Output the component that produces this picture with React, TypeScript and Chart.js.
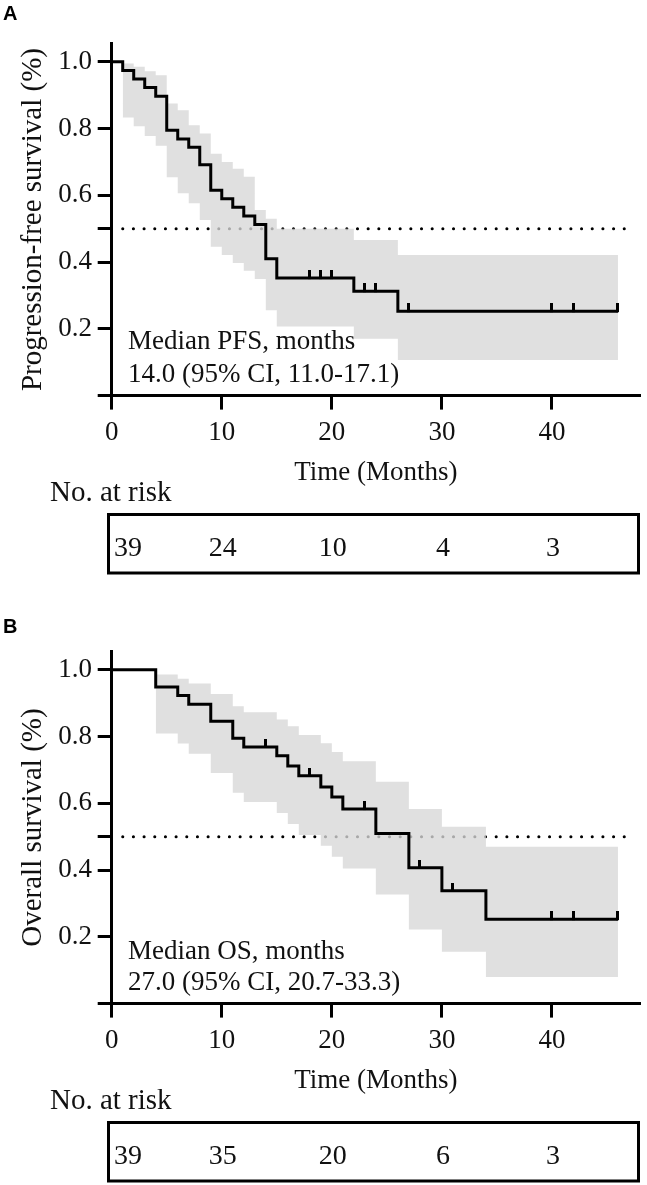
import React, { useEffect, useRef } from 'react';
import { Chart, registerables } from 'chart.js';

Chart.register(...registerables);

// ---------- data ----------
const xTicks = [0, 10, 20, 30, 40];
const yTicks = [0, 0.2, 0.4, 0.5, 0.6, 0.8, 1.0];
const riskTimes = [0, 10, 20, 30, 40];

// Panel A: progression-free survival
const pfsTimes = [0, 1, 2, 3, 4, 5, 6, 7, 8, 9, 10, 11, 12, 13, 14, 15, 22, 26, 46];
const pfsSurv = [1, 0.974, 0.949, 0.923, 0.897, 0.795, 0.769, 0.744, 0.692, 0.615, 0.59, 0.564, 0.538, 0.513, 0.41, 0.352, 0.313, 0.253, 0.253];
const pfsCensorTimes = [18, 19, 20, 23, 24, 27, 40, 42, 46];
const pfsCiTimes = [1, 2, 3, 4, 5, 6, 7, 8, 9, 10, 11, 12, 13, 14, 15, 22, 26, 46];
const pfsCiUpper = [0.995, 0.985, 0.972, 0.96, 0.875, 0.855, 0.81, 0.785, 0.725, 0.7, 0.68, 0.656, 0.556, 0.53, 0.5, 0.466, 0.421, 0.421];
const pfsCiLower = [0.833, 0.807, 0.778, 0.749, 0.654, 0.606, 0.576, 0.526, 0.446, 0.421, 0.397, 0.374, 0.349, 0.256, 0.207, 0.17, 0.107, 0.107];
const pfsRisk = ['39', '24', '10', '4', '3'];
const pfsMedianText = ['Median PFS, months', '14.0 (95% CI, 11.0-17.1)'];

// Panel B: overall survival
const osTimes = [0, 4, 6, 7, 9, 11, 12, 15, 16, 17, 19, 20, 21, 24, 27, 30, 34, 46];
const osSurv = [1, 0.949, 0.923, 0.897, 0.846, 0.795, 0.769, 0.743, 0.712, 0.683, 0.649, 0.619, 0.583, 0.51, 0.407, 0.338, 0.253, 0.253];
const osCensorTimes = [14, 18, 23, 28, 31, 40, 42, 46];
const osCiTimes = [4, 6, 7, 9, 11, 12, 15, 16, 17, 19, 20, 21, 24, 27, 30, 34, 46];
const osCiUpper = [0.986, 0.973, 0.959, 0.928, 0.891, 0.873, 0.851, 0.831, 0.805, 0.78, 0.754, 0.726, 0.665, 0.583, 0.53, 0.47, 0.47];
const osCiLower = [0.809, 0.779, 0.749, 0.691, 0.632, 0.604, 0.571, 0.538, 0.505, 0.473, 0.44, 0.405, 0.327, 0.222, 0.155, 0.08, 0.08];
const osRisk = ['39', '35', '20', '6', '3'];
const osMedianText = ['Median OS, months', '27.0 (95% CI, 20.7-33.3)'];

const medianLevel = 0.5;
const medianLineFrom = 1;
const medianLineTo = 47;

// ---------- style ----------
const SERIF = "'Liberation Serif', 'Times New Roman', serif";
const SANS = "'Liberation Sans', Arial, sans-serif";
const FS = 27;
const TITLE_FS = 29;
const TXT = '#111';
const BAND = 'rgba(215,215,215,0.78)';

const CHART_TOP = 43.5;
const AXIS_Y = 395.6;
const AXIS_LEFT = 111.7;

function stepValue(times: number[], surv: number[], t: number) {
  let v = surv[0];
  for (let i = 0; i < times.length; i++) if (times[i] <= t) v = surv[i];
  return v;
}

function makeTickImage() {
  const c = document.createElement('canvas');
  c.width = 3;
  c.height = 16;
  const g = c.getContext('2d')!;
  g.fillStyle = '#000';
  g.fillRect(0, 0, 3, 9);
  return c;
}

type PanelProps = {
  top: number;
  height: number;
  letter: string;
  letterBaseline: number;
  yTitle: string;
  times: number[];
  surv: number[];
  censorTimes: number[];
  ciTimes: number[];
  ciUpper: number[];
  ciLower: number[];
  risk: string[];
  medianText: string[];
  medianBaselines: number[];
};

function Panel(p: PanelProps) {
  const ref = useRef<HTMLCanvasElement | null>(null);
  useEffect(() => {
    if (!ref.current) return;
    const H = p.height;
    const tickImg = makeTickImage();
    const curve = p.times.map((t, i) => ({ x: t, y: p.surv[i] }));
    const censors = p.censorTimes.map((t) => ({ x: t, y: stepValue(p.times, p.surv, t) }));
    const upper = p.ciTimes.map((t, i) => ({ x: t, y: p.ciUpper[i] }));
    const lower = p.ciTimes.map((t, i) => ({ x: t, y: p.ciLower[i] }));
    const median = [
      { x: medianLineFrom, y: medianLevel },
      { x: medianLineTo, y: medianLevel },
    ];

    const overlay = {
      id: 'overlay',
      afterDraw(chart: any) {
        const ctx = chart.ctx;
        const xs = chart.scales.x;
        ctx.save();
        ctx.fillStyle = '#000';
        ctx.font = `bold 20px ${SANS}`;
        ctx.textAlign = 'left';
        ctx.textBaseline = 'alphabetic';
        ctx.fillText(p.letter, 3, p.letterBaseline);
        ctx.fillStyle = TXT;
        ctx.font = `${FS}px ${SERIF}`;
        ctx.fillText(p.medianText[0], 128, p.medianBaselines[0]);
        ctx.fillText(p.medianText[1], 128, p.medianBaselines[1]);
        ctx.font = `${TITLE_FS}px ${SERIF}`;
        ctx.fillText('No. at risk', 50, 501);
        ctx.strokeStyle = '#000';
        ctx.lineWidth = 3;
        ctx.strokeRect(108.5, 514.5, 530, 58.5);
        ctx.font = `28px ${SERIF}`;
        p.risk.forEach((r, i) => {
          const px = xs.getPixelForValue(riskTimes[i]);
          if (i === 0) {
            ctx.textAlign = 'left';
            ctx.fillText(r, 114, 556);
          } else {
            ctx.textAlign = 'center';
            ctx.fillText(r, px + 1, 556);
          }
        });
        ctx.restore();
      },
    };

    const font = { family: SERIF, size: FS };
    const titleFont = { family: SERIF, size: TITLE_FS };
    const chart = new Chart(ref.current, {
      type: 'line',
      data: {
        datasets: [
          { label: 'curve', data: curve, stepped: 'before', borderColor: '#000', borderWidth: 3, pointRadius: 0, fill: false, order: 0 },
          { label: 'censor', data: censors, showLine: false, pointStyle: tickImg, pointRadius: 4, order: 1 },
          { label: 'ciUpper', data: upper, stepped: 'before', borderWidth: 0, borderColor: 'rgba(0,0,0,0)', backgroundColor: BAND, pointRadius: 0, fill: '+1', order: 2 },
          { label: 'ciLower', data: lower, stepped: 'before', borderWidth: 0, borderColor: 'rgba(0,0,0,0)', pointRadius: 0, fill: false, order: 3 },
          { label: 'median', data: median, borderColor: '#000', borderWidth: 3, borderCapStyle: 'round', borderDash: [0.1, 10.57], pointRadius: 0, fill: false, order: 4 },
        ] as any,
      },
      options: {
        responsive: false,
        animation: false,
        devicePixelRatio: 1,
        layout: { padding: { top: CHART_TOP, right: 647 - 640, left: 0, bottom: 0 } },
        plugins: { legend: { display: false }, tooltip: { enabled: false } },
        scales: {
          x: {
            type: 'linear',
            min: 0,
            max: 48,
            afterBuildTicks: (s: any) => { s.ticks = xTicks.map((v) => ({ value: v })); },
            afterFit: (s: any) => { s.height = H - AXIS_Y; },
            grid: { drawOnChartArea: false, drawTicks: true, tickLength: 14, tickWidth: 3, tickColor: '#000' },
            border: { display: true, color: '#000', width: 3 },
            ticks: { font, color: TXT, padding: 7.4, maxRotation: 0, autoSkip: false, callback: (v: any) => String(v) },
            title: { display: true, text: 'Time (Months)', font, color: TXT, padding: { top: 0, bottom: H - 16.2 - 473 } },
          },
          y: {
            type: 'linear',
            min: 0,
            max: 1.055,
            afterBuildTicks: (s: any) => { s.ticks = yTicks.map((v) => ({ value: v })); },
            afterFit: (s: any) => { s.width = AXIS_LEFT; },
            grid: { drawOnChartArea: false, drawTicks: true, tickLength: 14, tickWidth: 3, tickColor: '#000' },
            border: { display: true, color: '#000', width: 3 },
            ticks: { font, color: TXT, padding: 5.7, autoSkip: false, callback: (v: any) => (v === 0 || v === 0.5 ? '' : Number(v).toFixed(1)) },
            title: { display: true, text: p.yTitle, font: titleFont, color: TXT, padding: { top: 15.8, bottom: 0 } },
          },
        },
      } as any,
      plugins: [overlay],
    });
    return () => chart.destroy();
  }, []);
  return (
    <canvas
      ref={ref}
      width={647}
      height={p.height}
      style={{ position: 'absolute', left: 0, top: p.top, width: 647, height: p.height }}
    />
  );
}

export default function App() {
  return (
    <div style={{ position: 'absolute', left: 0, top: 0, width: 647, height: 1185, overflow: 'hidden', background: '#fff' }}>
      <Panel
        top={0}
        height={608}
        letter="A"
        letterBaseline={20}
        yTitle="Progression-free survival (%)"
        times={pfsTimes}
        surv={pfsSurv}
        censorTimes={pfsCensorTimes}
        ciTimes={pfsCiTimes}
        ciUpper={pfsCiUpper}
        ciLower={pfsCiLower}
        risk={pfsRisk}
        medianText={pfsMedianText}
        medianBaselines={[348.5, 381.5]}
      />
      <Panel
        top={608}
        height={577}
        letter="B"
        letterBaseline={24.5}
        yTitle="Overall survival (%)"
        times={osTimes}
        surv={osSurv}
        censorTimes={osCensorTimes}
        ciTimes={osCiTimes}
        ciUpper={osCiUpper}
        ciLower={osCiLower}
        risk={osRisk}
        medianText={osMedianText}
        medianBaselines={[350.5, 382]}
      />
    </div>
  );
}
